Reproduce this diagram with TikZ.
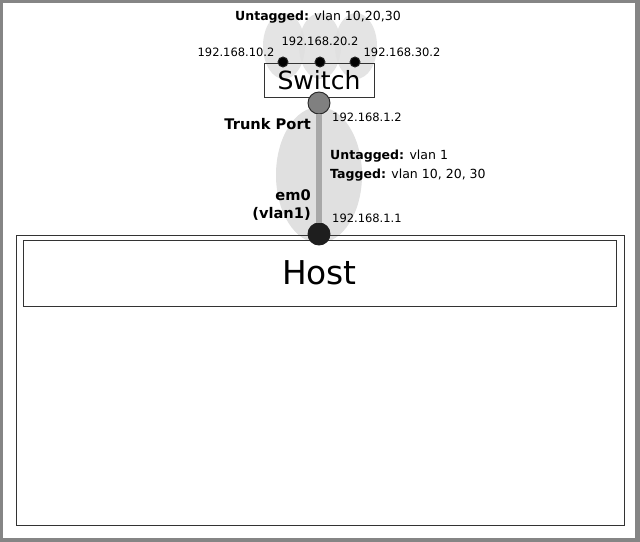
\documentclass[tikz,border=0pt]{standalone}
\usepackage{fontspec}
\setmainfont{DejaVu Sans}
\usetikzlibrary{positioning}

\definecolor{frame}{HTML}{858585}
\definecolor{halo}{HTML}{E0E0E0}
\definecolor{trunk}{HTML}{A8A8A8}
\definecolor{portgrey}{HTML}{808080}
\definecolor{portdark}{HTML}{1E1E1E}

\tikzset{
  ipaddr/.style={font=\fontsize{9.8}{11}\selectfont, inner sep=0pt},
  vlaninfo/.style={font=\fontsize{10.7}{12}\selectfont, inner sep=0pt, anchor=west},
  portname/.style={font=\fontsize{12.5}{15}\selectfont\bfseries, inner sep=0pt},
  box/.style={draw=black!80, line width=0.8pt, inner sep=0pt},
  port/.style={circle, draw=black!85, line width=0.8pt, inner sep=0pt},
}

\begin{document}
\begin{tikzpicture}[x=0.03cm, y=-0.03cm]

  % frame of the page
  \fill[frame] (0,0) rectangle (640,542);
  \fill[white] (3,3) rectangle (635,538);
  \useasboundingbox (0,0) rectangle (640,542);

  % ------------------------------------------------------------ halos
  \foreach \x in {284, 320, 356}
    \fill[halo, opacity=0.85] (\x,46) ellipse (21 and 33);
  \fill[halo] (319,175) ellipse (43 and 68);

  % ------------------------------------------------------------ host
  \draw[black!80, line width=0.8pt] (16,235) rectangle (624,525);
  \node[box, minimum width=593*0.03cm, minimum height=66*0.03cm,
        font=\fontsize{28}{32}\selectfont] (host) at (319.5,273) {Host};

  % ------------------------------------------------------------ switch
  \node[box, minimum width=110*0.03cm, minimum height=34*0.03cm,
        font=\fontsize{21.4}{25}\selectfont] (switch) at (319,80) {Switch};

  \node[port, fill=black, minimum size=10*0.03cm] (p10) at (283,62) {};
  \node[port, fill=black, minimum size=10*0.03cm] (p20) at (320,62) {};
  \node[port, fill=black, minimum size=10*0.03cm] (p30) at (355,62) {};
  \node[ipaddr] (ip10) at (236,52) {192.168.10.2};
  \node[ipaddr] (ip20) at (320,41) {192.168.20.2};
  \node[ipaddr] (ip30) at (402,52) {192.168.30.2};
  \node[vlaninfo, anchor=center] (untop) at (318,17)
    {\textbf{Untagged:} vlan 10,20,30};

  % ------------------------------------------------------------ trunk
  \node[port, fill=portgrey, minimum size=22*0.03cm] (trunkport) at (319,103) {};
  \node[port, fill=portdark, draw=portdark, minimum size=22*0.03cm] (em0) at (319,234) {};
  \draw[trunk, line width=6*0.03cm] (trunkport.south) -- (em0.north);

  \node[portname, anchor=east] (trunklabel) at (311,124) {Trunk Port};
  \node[ipaddr, anchor=west] (ip12) at (332,117) {192.168.1.2};
  \node[vlaninfo] (untag) at (330,156) {\textbf{Untagged:} vlan 1};
  \node[vlaninfo] (tag) at (330,175) {\textbf{Tagged:} vlan 10, 20, 30};
  \node[portname, anchor=east, align=right] (em0label) at (311,205)
    {em0\\(vlan1)};
  \node[ipaddr, anchor=west] (ip11) at (332,218) {192.168.1.1};

\end{tikzpicture}
\end{document}
